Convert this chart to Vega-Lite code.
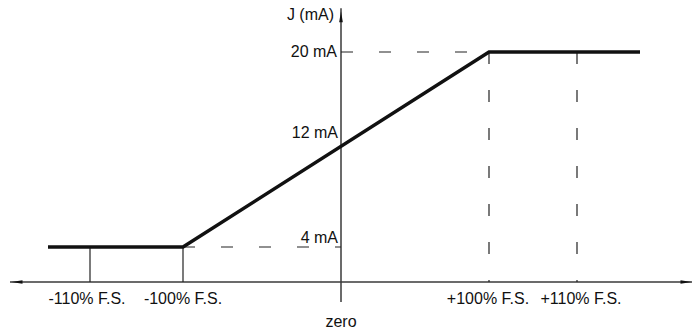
{
  "$schema": "https://vega.github.io/schema/vega-lite/v6.json",
  "width": 696,
  "height": 333,
  "padding": 0,
  "autosize": {"type": "none"},
  "background": "white",
  "config": {"view": {"stroke": null}},
  "datasets": {
    "segments": [
      {"kind": "axis", "x": 10, "y": 1.128, "x2": 692, "y2": 1.128},
      {"kind": "axis", "x": 341, "y": -0.513, "x2": 341, "y2": 23.6},
      {"kind": "tick", "x": 90, "y": 4, "x2": 90, "y2": 1.128},
      {"kind": "tick", "x": 183, "y": 4, "x2": 183, "y2": 1.128},
      {"kind": "dash", "x": 341, "y": 20, "x2": 489, "y2": 20},
      {"kind": "dash", "x": 183, "y": 4, "x2": 341, "y2": 4},
      {"kind": "dash", "x": 489, "y": 20, "x2": 489, "y2": 1.128},
      {"kind": "dash", "x": 577, "y": 20, "x2": 577, "y2": 1.128}
    ],
    "curve": [
      {"x": 48, "y": 4},
      {"x": 183, "y": 4},
      {"x": 489, "y": 20},
      {"x": 640, "y": 20}
    ],
    "arrows": [
      {"dir": "left", "x": 17, "y": 1.128},
      {"dir": "right", "x": 686, "y": 1.128},
      {"dir": "up", "x": 341, "y": 22.9}
    ],
    "ylabels": [
      {"label": "J (mA)", "x": 334, "y": 23.04},
      {"label": "20 mA", "x": 337, "y": 20},
      {"label": "12 mA", "x": 338, "y": 13.35},
      {"label": "4 mA", "x": 338, "y": 4.74}
    ],
    "xlabels": [
      {"label": "-110% F.S.", "x": 87, "y": -0.27},
      {"label": "-100% F.S.", "x": 183, "y": -0.27},
      {"label": "+100% F.S.", "x": 488, "y": -0.27},
      {"label": "+110% F.S.", "x": 581, "y": -0.27},
      {"label": "zero", "x": 341, "y": -2.154}
    ]
  },
  "resolve": {"scale": {"x": "shared", "y": "shared"}},
  "layer": [
    {
      "data": {"name": "segments"},
      "transform": [{"filter": "datum.kind === 'axis'"}],
      "mark": {"type": "rule", "color": "#3a3a3a", "strokeWidth": 1.5},
      "encoding": {
        "x": {"field": "x", "type": "quantitative", "scale": {"domain": [0, 696], "nice": false, "zero": false}, "axis": null},
        "y": {"field": "y", "type": "quantitative", "scale": {"domain": [-3.056, 24.267], "nice": false, "zero": false}, "axis": null},
        "x2": {"field": "x2"},
        "y2": {"field": "y2"}
      }
    },
    {
      "data": {"name": "segments"},
      "transform": [{"filter": "datum.kind === 'tick'"}],
      "mark": {"type": "rule", "color": "#222222", "strokeWidth": 1.2},
      "encoding": {
        "x": {"field": "x", "type": "quantitative"},
        "y": {"field": "y", "type": "quantitative"},
        "x2": {"field": "x2"},
        "y2": {"field": "y2"}
      }
    },
    {
      "data": {"name": "segments"},
      "transform": [{"filter": "datum.kind === 'dash'"}],
      "mark": {"type": "rule", "color": "#222222", "strokeWidth": 1.2, "strokeDash": [12, 26]},
      "encoding": {
        "x": {"field": "x", "type": "quantitative"},
        "y": {"field": "y", "type": "quantitative"},
        "x2": {"field": "x2"},
        "y2": {"field": "y2"}
      }
    },
    {
      "data": {"name": "curve"},
      "mark": {"type": "line", "color": "#111111", "strokeWidth": 3.5, "strokeJoin": "miter"},
      "encoding": {
        "x": {"field": "x", "type": "quantitative"},
        "y": {"field": "y", "type": "quantitative"},
        "order": {"field": "x", "type": "quantitative"}
      }
    },
    {
      "data": {"name": "arrows"},
      "mark": {"type": "point", "filled": true, "color": "#111111", "opacity": 1, "size": 121},
      "encoding": {
        "x": {"field": "x", "type": "quantitative"},
        "y": {"field": "y", "type": "quantitative"},
        "shape": {
          "field": "dir",
          "type": "nominal",
          "legend": null,
          "scale": {
            "domain": ["left", "right", "up"],
            "range": ["M-1,0L1,-0.33L1,0.33Z", "M1,0L-1,-0.33L-1,0.33Z", "M0,-1L-0.33,1L0.33,1Z"]
          }
        }
      }
    },
    {
      "data": {"name": "ylabels"},
      "mark": {"type": "text", "align": "right", "baseline": "middle", "font": "Liberation Sans", "fontSize": 16, "letterSpacing": -0.8, "color": "#111111"},
      "encoding": {
        "x": {"field": "x", "type": "quantitative"},
        "y": {"field": "y", "type": "quantitative"},
        "text": {"field": "label"}
      }
    },
    {
      "data": {"name": "xlabels"},
      "mark": {"type": "text", "align": "center", "baseline": "middle", "font": "Liberation Sans", "fontSize": 16, "letterSpacing": -0.8, "color": "#111111"},
      "encoding": {
        "x": {"field": "x", "type": "quantitative"},
        "y": {"field": "y", "type": "quantitative"},
        "text": {"field": "label"}
      }
    }
  ]
}
